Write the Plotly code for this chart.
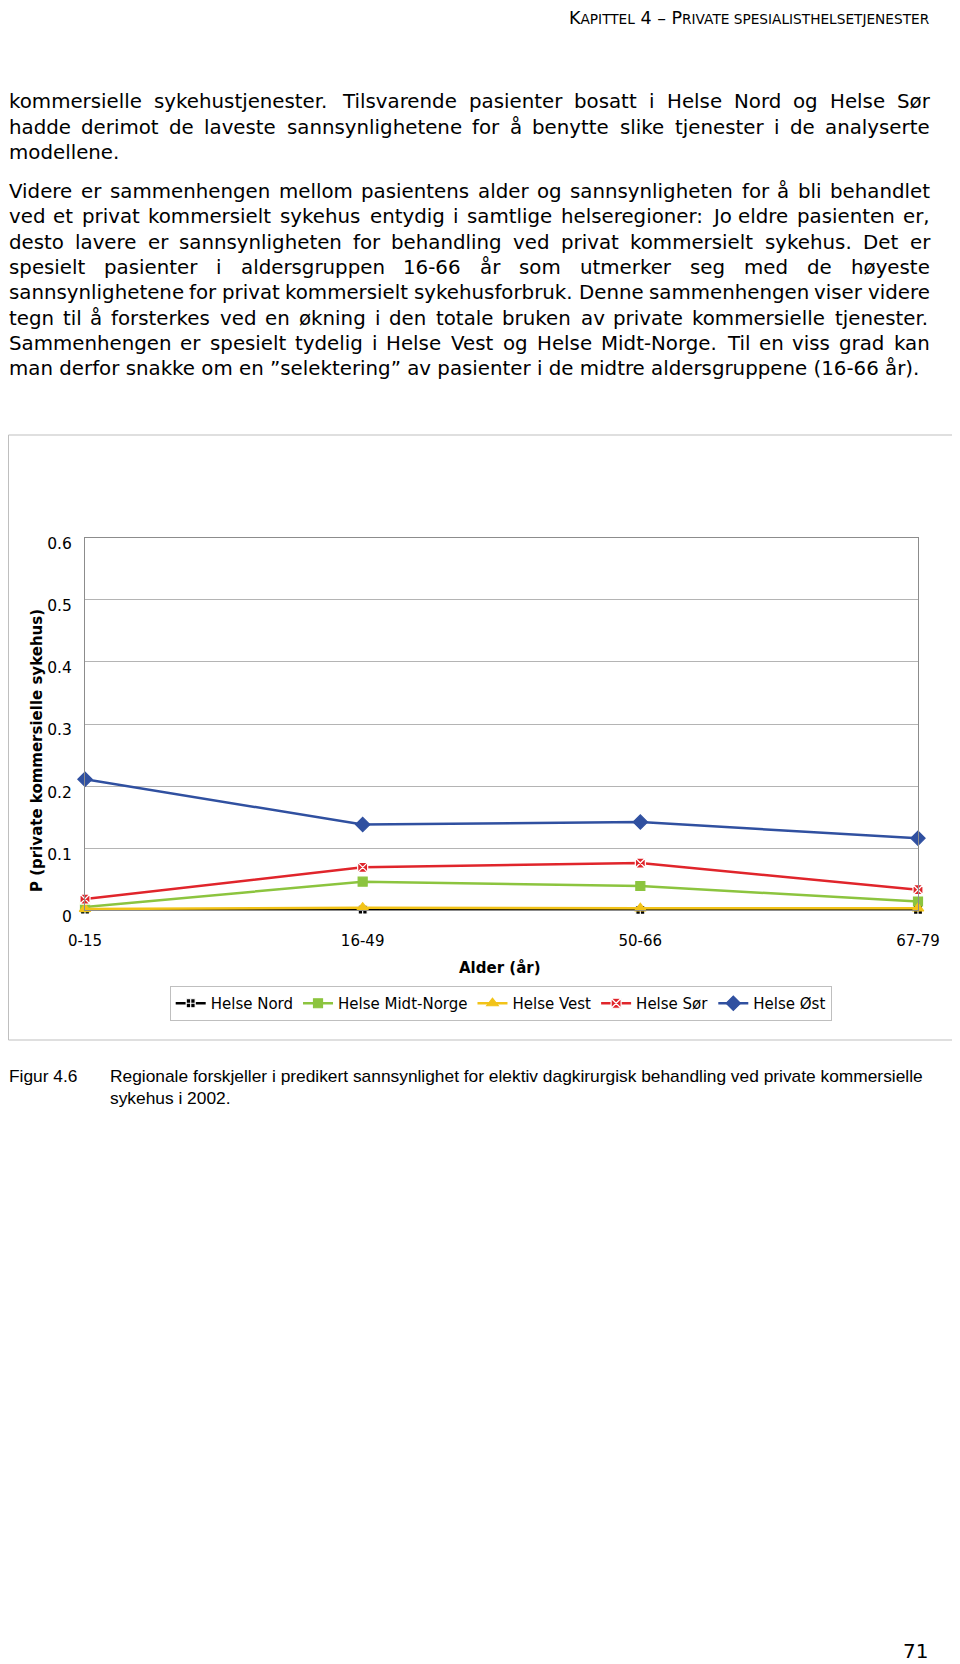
import plotly.graph_objects as go

# ---------------- data ----------------
age_groups = ["0-15", "16-49", "50-66", "67-79"]
helse_nord = [0.001, 0.001, 0.0005, 0.0005]
helse_midt = [0.005, 0.046, 0.039, 0.014]
helse_vest = [0.002, 0.004, 0.003, 0.003]
helse_sor = [0.018, 0.069, 0.076, 0.033]
helse_ost = [0.211, 0.138, 0.142, 0.116]
series_names = ["Helse Nord", "Helse Midt-Norge", "Helse Vest", "Helse Sør", "Helse Øst"]
y_ticks = [0, 0.1, 0.2, 0.3, 0.4, 0.5, 0.6]

para1 = [
    "kommersielle sykehustjenester. Tilsvarende pasienter bosatt i Helse Nord og Helse Sør",
    "hadde derimot de laveste sannsynlighetene for å benytte slike tjenester i de analyserte",
    "modellene.",
]
para2 = [
    "Videre er sammenhengen mellom pasientens alder og sannsynligheten for å bli behandlet",
    "ved et privat kommersielt sykehus entydig i samtlige helseregioner: Jo eldre pasienten er,",
    "desto lavere er sannsynligheten for behandling ved privat kommersielt sykehus. Det er",
    "spesielt pasienter i aldersgruppen 16-66 år som utmerker seg med de høyeste",
    "sannsynlighetene for privat kommersielt sykehusforbruk. Denne sammenhengen viser videre",
    "tegn til å forsterkes ved en økning i den totale bruken av private kommersielle tjenester.",
    "Sammenhengen er spesielt tydelig i Helse Vest og Helse Midt-Norge. Til en viss grad kan",
    "man derfor snakke om en ”selektering” av pasienter i de midtre aldersgruppene (16-66 år).",
]
caption_label = "Figur 4.6"
caption_lines = [
    "Regionale forskjeller i predikert sannsynlighet for elektiv dagkirurgisk behandling ved private kommersielle",
    "sykehus i 2002.",
]
page_number = "71"

# ---------------- page geometry helpers ----------------
W, H = 960, 1664
OFF = 8.0          # the page body offsets the figure by this many pixels
FONT = "DejaVu Sans"

def px(x):
    return (x - OFF) / W

def py(y):
    return 1 - (y - OFF) / H

# DejaVu Sans advance widths (units per 2048 em)
DV = {' ': 651, '!': 821, '"': 753, '(': 799, ')': 799, ',': 651, '-': 739, '.': 651, ':': 690,
      '”': 836, '–': 1024}
for d in "0123456789":
    DV[d] = 1303
DV.update(dict(A=1401, B=1405, C=1430, D=1577, E=1294, F=1178, G=1587, H=1540, I=604, J=604,
               K=1343, L=1141, M=1767, N=1532, O=1612, P=1235, R=1423, S=1300, T=1251, U=1499,
               V=1401, W=2025, X=1403, Y=1251, Z=1403))
DV.update(dict(a=1255, b=1300, c=1126, d=1300, e=1260, f=721, g=1300, h=1298, i=569, j=569,
               k=1186, l=569, m=1995, n=1298, o=1253, p=1300, q=1300, r=842, s=1067, t=803,
               u=1298, v=1212, w=1675, x=1212, y=1212, z=1075))
DV['ø'] = 1253
DV['å'] = 1255
DV['Ø'] = 1612

def em_dv(s):
    return sum(DV.get(c, 1200) for c in s) / 2048.0

# Arial / Liberation Sans widths (per 1000 em)
AR = {' ': 278, '.': 278, ',': 278, '-': 333}
for d in "0123456789":
    AR[d] = 556
AR.update(dict(a=556, b=556, c=500, d=556, e=556, f=278, g=556, h=556, i=222, j=222, k=500, l=222,
               m=833, n=556, o=556, p=556, q=556, r=333, s=500, t=278, u=556, v=500, w=722,
               x=500, y=500, z=500, R=722, F=611))

def em_ar(s):
    return sum(AR.get(c, 556) for c in s) / 1000.0

annotations = []

def add_text(x, y, text, size, family=FONT, xanchor="left", angle=0, color="black"):
    annotations.append(dict(x=px(x), y=py(y), xref="paper", yref="paper", text=text,
                            showarrow=False, xanchor=xanchor, yanchor="middle",
                            font=dict(family=family, size=size, color=color),
                            borderpad=0, borderwidth=0, textangle=angle))

# ---------------- body text (justified) ----------------
LEFT, RIGHT = 8.5, 930.0
SPACE_EM = DV[' '] / 2048.0
size_last = (921.0 - LEFT) / em_dv(para2[-1])
size_fit = min(
    (RIGHT - LEFT) / (sum(em_dv(w) for w in ln.split(" ")) + 0.85 * SPACE_EM * (len(ln.split(" ")) - 1))
    for ln in para1[:-1] + para2[:-1]
)
body_size = min(size_last, size_fit)

def place_paragraph(lines, y0, step):
    for k, line in enumerate(lines):
        y = y0 + k * step
        last = (k == len(lines) - 1)
        if last:
            add_text(LEFT, y, line, body_size)
            continue
        words = line.split(" ")
        widths = [em_dv(w) * body_size for w in words]
        gap = (RIGHT - LEFT - sum(widths)) / (len(words) - 1)
        xcur = LEFT
        for w, wd in zip(words, widths):
            add_text(xcur, y, w, body_size)
            xcur += wd + gap

place_paragraph(para1, 102.0, 25.4)
place_paragraph(para2, 191.5, 25.35)

# ---------------- header (small caps) ----------------
L, S = 17.5, 13.7
header = (f'<span style="font-size:{L}px">K</span>APITTEL<span style="font-size:{L}px"> 4 – P</span>'
          f'RIVATE SPESIALISTHELSETJENESTER')
add_text(930, 18, header, S, xanchor="right")

# ---------------- caption ----------------
cap_size = (923.0 - 110.0) / em_ar(caption_lines[0])
add_text(LEFT, 1076, caption_label, cap_size, family="Liberation Sans")
add_text(110, 1076, caption_lines[0], cap_size, family="Liberation Sans")
add_text(110, 1098, caption_lines[1], cap_size, family="Liberation Sans")

# page number
add_text(915, 1651, page_number, 20, xanchor="center")

# axis titles
add_text(37, 751, "<b>P (private kommersielle sykehus)</b>", 15, xanchor="center", angle=-90)
add_text(500, 968, "<b>Alder (år)</b>", 15, xanchor="center")

# ---------------- chart ----------------
styles = [
    dict(color="#000000", symbol="square-cross", size=9, lc="#FFFFFF"),
    dict(color="#8CC43F", symbol="square", size=9, lc="#8CC43F"),
    dict(color="#F2C318", symbol="triangle-up", size=10, lc="#F2C318"),
    dict(color="#E0252B", symbol="square-x", size=10, lc="#FFFFFF"),
    dict(color="#3050A0", symbol="diamond", size=11, lc="#3050A0"),
]
values = [helse_nord, helse_midt, helse_vest, helse_sor, helse_ost]

fig = go.Figure()
for name, vals, st in zip(series_names, values, styles):
    fig.add_trace(go.Scatter(
        x=age_groups, y=vals, name=name, mode="lines+markers", cliponaxis=False,
        line=dict(color=st["color"], width=2.5),
        marker=dict(symbol=st["symbol"], size=st["size"], color=st["color"],
                    line=dict(color=st["lc"], width=1.2)),
    ))

plot_left, plot_right, plot_top, plot_bottom = 85.0, 918.0, 537.8, 910.2

shapes = [
    dict(type="rect", xref="paper", yref="paper", x0=px(8.5), x1=px(957), y0=py(435), y1=py(1040),
         line=dict(color="#BFBFBF", width=1), fillcolor="rgba(0,0,0,0)", layer="below"),
]

fig.update_layout(
    width=W, height=H, autosize=False,
    margin=dict(l=0, r=0, t=0, b=0, pad=0, autoexpand=False),
    paper_bgcolor="white", plot_bgcolor="white",
    font=dict(family=FONT, size=15, color="black"),
    xaxis=dict(domain=[px(plot_left), px(plot_right)], type="category", range=[0, 3],
               showgrid=False, showline=True, linecolor="#8C8C8C", linewidth=1, mirror=True,
               ticks="", tickfont=dict(size=15), ticklabelstandoff=17, zeroline=False,
               automargin=False),
    yaxis=dict(domain=[py(plot_bottom), py(plot_top)], range=[0, 0.6], tickvals=y_ticks,
               showgrid=True, gridcolor="#B4B4B4", gridwidth=1, showline=True,
               linecolor="#8C8C8C", linewidth=1, mirror=True, ticks="", zeroline=False,
               tickfont=dict(size=15.5), ticklabelstandoff=9, ticklabelshift=6,
               automargin=False),
    legend=dict(orientation="h", x=px(500.7), y=py(1003.5), xanchor="center", yanchor="middle",
                xref="paper", yref="paper",
                bordercolor="#BFBFBF", borderwidth=1, bgcolor="white",
                font=dict(family=FONT, size=15), itemwidth=30, tracegroupgap=0),
    shapes=shapes,
    annotations=annotations,
)

fig.write_html("out.html")
